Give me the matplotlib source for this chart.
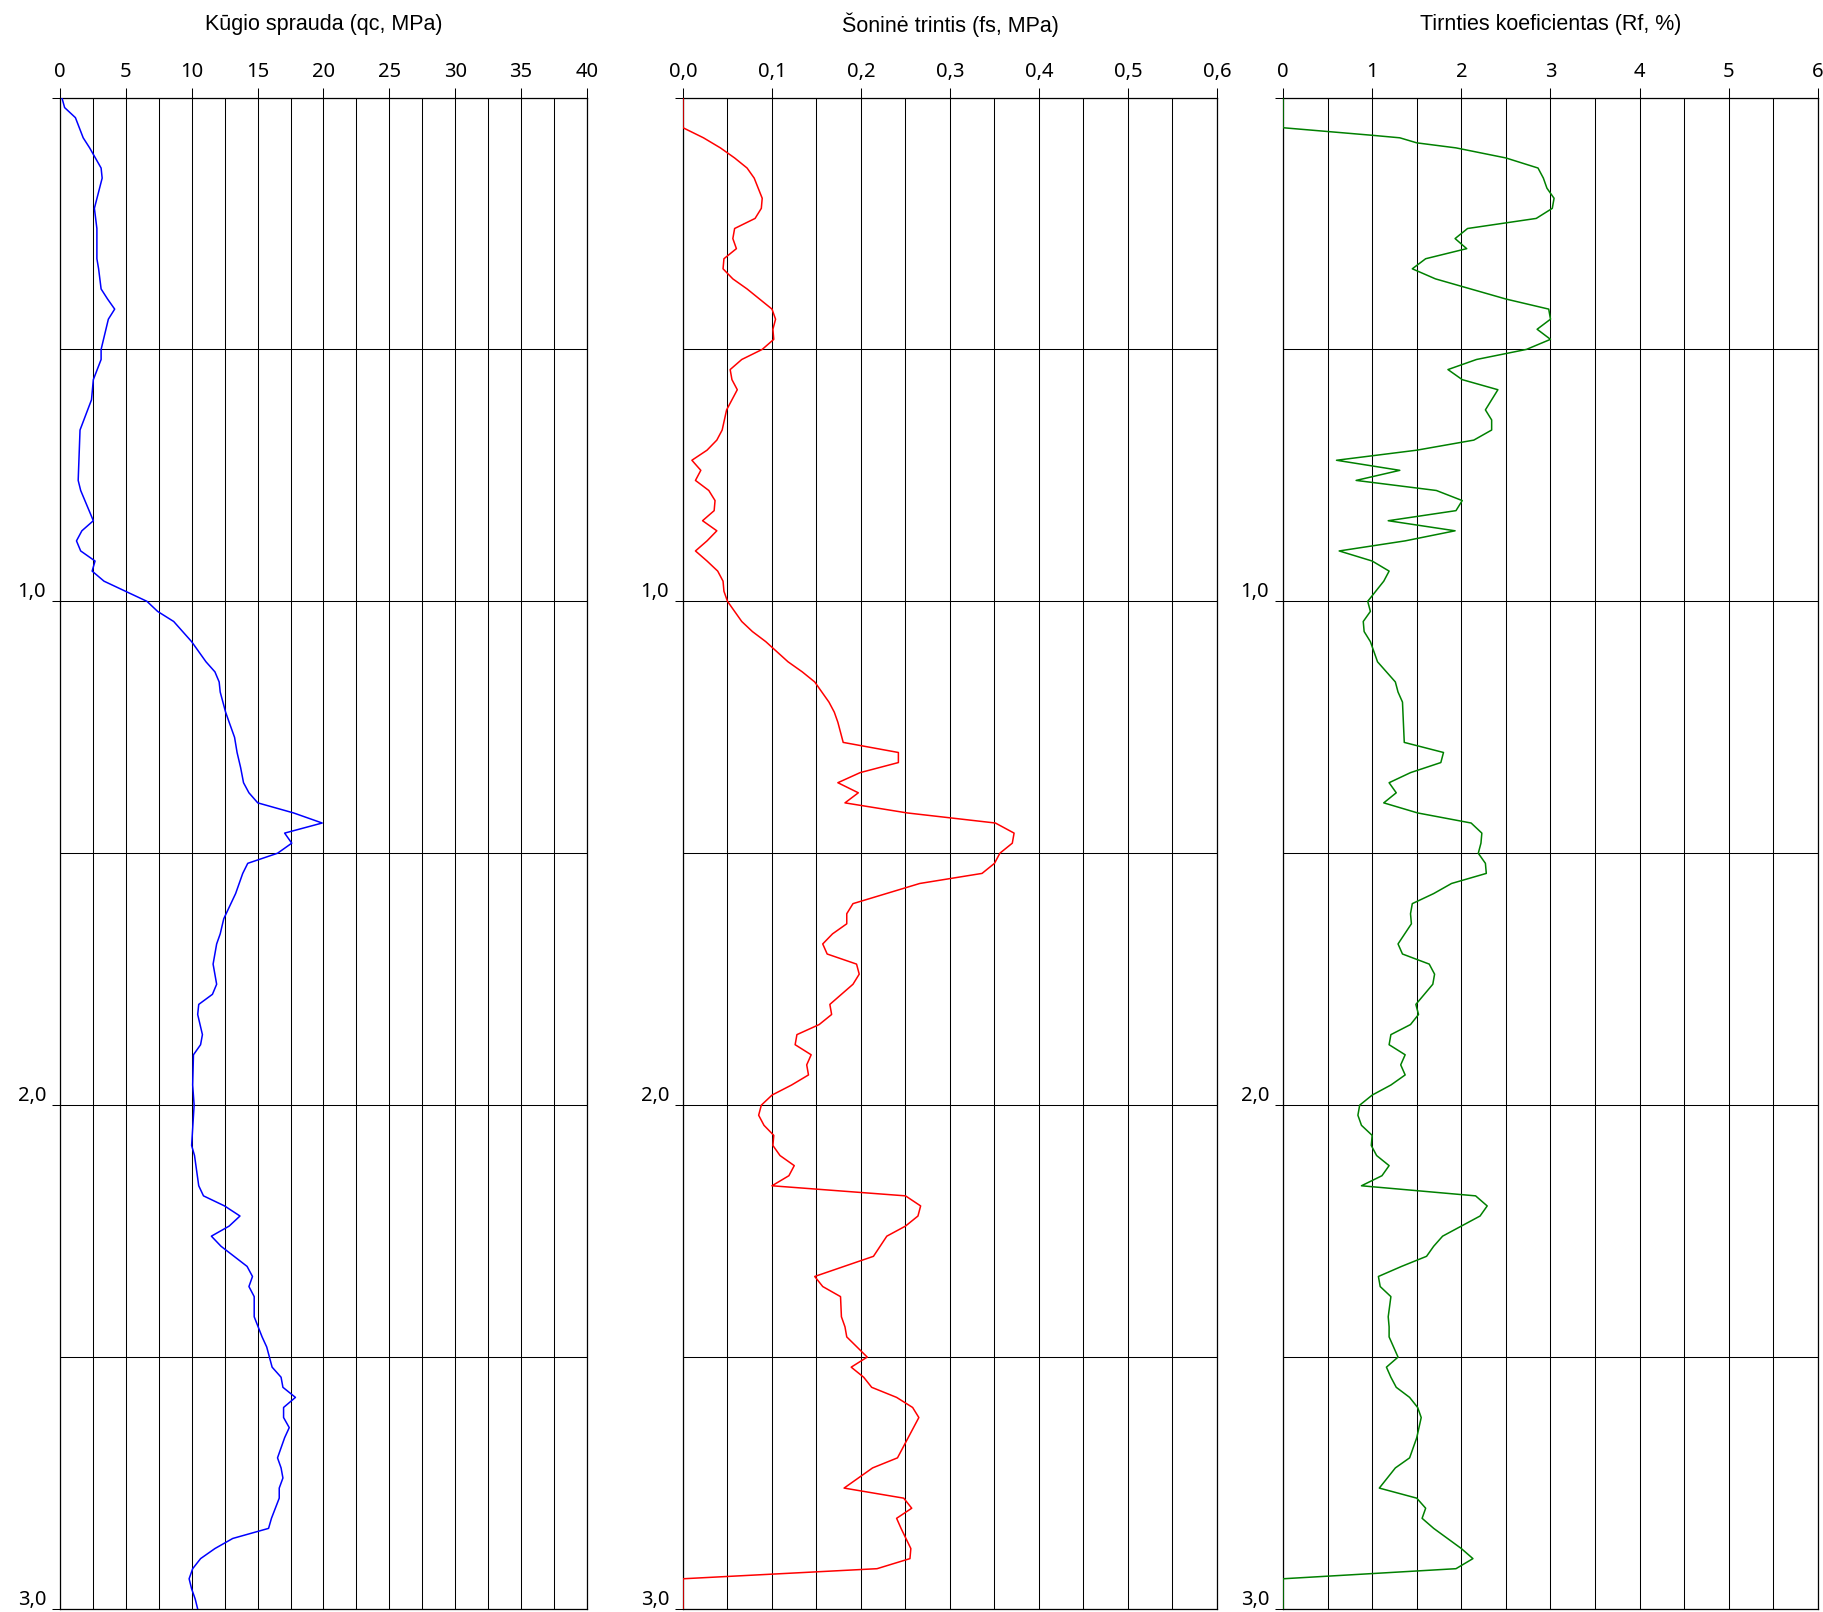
import numpy as np
import matplotlib.pyplot as plt
from matplotlib.transforms import ScaledTranslation

# Kūgio sprauda qc (MPa)
depth_qc = [0.00, 0.02, 0.04, 0.08, 0.10, 0.14, 0.16, 0.22, 0.26, 0.32, 0.34, 0.38, 0.40, 0.42, 0.44,
            0.50, 0.52, 0.56, 0.60, 0.66, 0.76, 0.78, 0.84, 0.86, 0.88, 0.90, 0.92, 0.94, 0.96, 0.98,
            1.00, 1.02, 1.04, 1.08, 1.12, 1.14, 1.16, 1.18, 1.22, 1.24, 1.27, 1.30, 1.33, 1.36, 1.38,
            1.40, 1.42, 1.44, 1.46, 1.48, 1.50, 1.52, 1.54, 1.58, 1.63, 1.66, 1.68, 1.72, 1.76, 1.78,
            1.80, 1.82, 1.86, 1.88, 1.90, 1.96, 2.00, 2.08, 2.10, 2.16, 2.18, 2.20, 2.22, 2.24, 2.26,
            2.28, 2.32, 2.34, 2.36, 2.38, 2.42, 2.46, 2.48, 2.52, 2.54, 2.56, 2.58, 2.60, 2.62, 2.64,
            2.66, 2.70, 2.72, 2.74, 2.76, 2.78, 2.82, 2.84, 2.86, 2.88, 2.90, 2.92, 2.94, 2.96, 2.98, 3.00]
qc = [0.14, 0.35, 1.17, 1.76, 2.25, 3.12, 3.20, 2.61, 2.80, 2.80, 2.93, 3.12, 3.61, 4.15, 3.67,
      3.12, 3.12, 2.53, 2.39, 1.52, 1.38, 1.57, 2.53, 1.66, 1.25, 1.57, 2.66, 2.44, 3.34, 4.97,
      6.60, 7.41, 8.63, 9.99, 11.08, 11.76, 12.08, 12.16, 12.57, 12.84, 13.25, 13.44, 13.71, 13.93, 14.34,
      15.01, 17.73, 19.90, 17.05, 17.59, 16.51, 14.25, 13.87, 13.33, 12.43, 12.16, 11.89, 11.62, 11.89, 11.57,
      10.53, 10.45, 10.81, 10.67, 10.13, 10.07, 10.18, 9.99, 10.21, 10.53, 10.89, 12.49, 13.66, 12.84, 11.49,
      12.22, 14.20, 14.61, 14.34, 14.74, 14.74, 15.34, 15.69, 16.10, 16.78, 16.92, 17.87, 16.97, 16.97, 17.40,
      17.05, 16.51, 16.78, 16.92, 16.64, 16.64, 16.05, 15.83, 13.11, 11.76, 10.67, 10.07, 9.80, 9.99, 10.26, 10.45]

# Šoninė trintis fs (MPa)
depth_fs = [0.00, 0.06, 0.08, 0.10, 0.12, 0.14, 0.16, 0.20, 0.22, 0.24, 0.26, 0.28, 0.30, 0.32, 0.34,
            0.36, 0.38, 0.40, 0.42, 0.44, 0.46, 0.48, 0.50, 0.52, 0.54, 0.56, 0.58, 0.62, 0.66, 0.68,
            0.70, 0.72, 0.74, 0.76, 0.78, 0.80, 0.82, 0.84, 0.86, 0.88, 0.90, 0.92, 0.94, 0.96, 0.98,
            1.00, 1.04, 1.06, 1.08, 1.12, 1.14, 1.16, 1.20, 1.22, 1.24, 1.28, 1.30, 1.32, 1.34, 1.36,
            1.38, 1.40, 1.42, 1.44, 1.46, 1.48, 1.50, 1.52, 1.54, 1.56, 1.60, 1.62, 1.64, 1.66, 1.68,
            1.70, 1.72, 1.74, 1.76, 1.80, 1.82, 1.84, 1.86, 1.88, 1.90, 1.92, 1.94, 1.96, 1.98, 2.00,
            2.02, 2.04, 2.06, 2.08, 2.10, 2.12, 2.14, 2.16, 2.18, 2.20, 2.22, 2.24, 2.26, 2.30, 2.34,
            2.36, 2.38, 2.42, 2.44, 2.46, 2.50, 2.52, 2.54, 2.56, 2.58, 2.60, 2.62, 2.66, 2.70, 2.72,
            2.76, 2.78, 2.80, 2.82, 2.84, 2.88, 2.90, 2.92, 2.94, 3.00]
fs = [0.000, 0.000, 0.023, 0.042, 0.058, 0.072, 0.080, 0.089, 0.088, 0.081, 0.058, 0.056, 0.060, 0.046, 0.045,
      0.056, 0.072, 0.086, 0.100, 0.104, 0.101, 0.102, 0.089, 0.066, 0.053, 0.055, 0.061, 0.049, 0.044, 0.038,
      0.027, 0.010, 0.020, 0.014, 0.029, 0.036, 0.035, 0.022, 0.038, 0.027, 0.014, 0.027, 0.039, 0.045, 0.046,
      0.050, 0.066, 0.078, 0.093, 0.118, 0.134, 0.148, 0.164, 0.170, 0.174, 0.180, 0.242, 0.242, 0.199, 0.174,
      0.197, 0.182, 0.252, 0.351, 0.372, 0.370, 0.356, 0.350, 0.336, 0.266, 0.191, 0.184, 0.184, 0.168, 0.157,
      0.162, 0.195, 0.198, 0.191, 0.165, 0.167, 0.153, 0.128, 0.126, 0.144, 0.139, 0.141, 0.122, 0.100, 0.088,
      0.085, 0.091, 0.102, 0.101, 0.109, 0.125, 0.119, 0.100, 0.250, 0.267, 0.264, 0.250, 0.229, 0.214, 0.148,
      0.157, 0.177, 0.178, 0.182, 0.184, 0.207, 0.189, 0.203, 0.212, 0.240, 0.258, 0.265, 0.253, 0.241, 0.213,
      0.181, 0.248, 0.257, 0.240, 0.245, 0.256, 0.255, 0.218, 0.000, 0.000]

# Tirnties koeficientas Rf (%)
depth_rf = [0.00, 0.06, 0.075, 0.08, 0.09, 0.10, 0.12, 0.14, 0.16, 0.18, 0.20, 0.22, 0.24, 0.26, 0.28,
            0.30, 0.32, 0.34, 0.36, 0.40, 0.42, 0.44, 0.46, 0.48, 0.50, 0.52, 0.54, 0.56, 0.58, 0.62,
            0.64, 0.66, 0.68, 0.70, 0.72, 0.74, 0.76, 0.78, 0.80, 0.82, 0.84, 0.86, 0.88, 0.90, 0.92,
            0.94, 0.96, 1.00, 1.02, 1.04, 1.06, 1.08, 1.12, 1.14, 1.16, 1.18, 1.20, 1.24, 1.28, 1.30,
            1.32, 1.34, 1.36, 1.38, 1.40, 1.42, 1.44, 1.46, 1.48, 1.50, 1.52, 1.54, 1.56, 1.58, 1.60,
            1.62, 1.64, 1.68, 1.70, 1.72, 1.74, 1.76, 1.80, 1.82, 1.84, 1.86, 1.88, 1.90, 1.92, 1.94,
            1.96, 1.98, 2.00, 2.02, 2.04, 2.06, 2.08, 2.10, 2.12, 2.14, 2.16, 2.18, 2.20, 2.22, 2.24,
            2.26, 2.28, 2.30, 2.32, 2.34, 2.36, 2.38, 2.42, 2.44, 2.46, 2.50, 2.52, 2.54, 2.56, 2.58,
            2.60, 2.62, 2.66, 2.70, 2.72, 2.76, 2.78, 2.80, 2.82, 2.84, 2.88, 2.90, 2.92, 2.94, 3.00]
rf = [0.00, 0.00, 1.00, 1.31, 1.50, 1.94, 2.50, 2.86, 2.92, 2.96, 3.04, 3.02, 2.84, 2.07, 1.93,
      2.06, 1.60, 1.45, 1.71, 2.50, 2.98, 3.00, 2.85, 3.00, 2.73, 2.17, 1.85, 2.01, 2.41, 2.27,
      2.34, 2.34, 2.14, 1.50, 0.60, 1.31, 0.82, 1.72, 2.01, 1.94, 1.18, 1.93, 1.37, 0.63, 1.00,
      1.19, 1.13, 0.95, 0.98, 0.90, 0.91, 0.98, 1.06, 1.16, 1.26, 1.29, 1.34, 1.35, 1.36, 1.80,
      1.77, 1.43, 1.19, 1.27, 1.13, 1.51, 2.11, 2.23, 2.22, 2.19, 2.27, 2.28, 1.89, 1.69, 1.45,
      1.43, 1.44, 1.29, 1.34, 1.64, 1.70, 1.68, 1.49, 1.52, 1.43, 1.21, 1.19, 1.37, 1.32, 1.37,
      1.21, 1.00, 0.86, 0.84, 0.88, 1.00, 0.99, 1.05, 1.19, 1.11, 0.88, 2.16, 2.29, 2.21, 2.00,
      1.79, 1.69, 1.61, 1.33, 1.07, 1.09, 1.21, 1.18, 1.19, 1.19, 1.29, 1.16, 1.21, 1.27, 1.42,
      1.51, 1.55, 1.50, 1.42, 1.26, 1.08, 1.50, 1.60, 1.56, 1.69, 2.00, 2.13, 1.94, 0.00, 0.00]

titles = ['Kūgio sprauda (qc, MPa)', 'Šoninė trintis (fs, MPa)', 'Tirnties koeficientas (Rf, %)']
depth_ticks = [0.0, 1.0, 2.0, 3.0]
depth_labels = ['', '1,0', '2,0', '3,0']

W, H = 1824, 1612
fig = plt.figure(figsize=(W / 100, H / 100), dpi=100)

panels = [
    # left px, right px, depths, values, colour, xmax, major, minor, tick format
    (60, 587, depth_qc, qc, '#0000ff', 40, 5, 2.5, lambda v: f'{v:.0f}'),
    (683, 1217, depth_fs, fs, '#ff0000', 0.6, 0.1, 0.05, lambda v: f'{v:.1f}'.replace('.', ',')),
    (1283, 1818, depth_rf, rf, '#008000', 6, 1, 0.5, lambda v: f'{v:.0f}'),
]

top_px, bottom_px = 97.5, 1609
for (l, r, d, v, col, xmax, major, minor, fmt), title in zip(panels, titles):
    ax = fig.add_axes([l / W, (H - bottom_px) / H, (r - l) / W, (bottom_px - top_px) / H])
    ax.plot(v, d, color=col, lw=1.1, zorder=3)
    ax.set_xlim(0, xmax)
    ax.set_ylim(3.0, 0.0)

    ax.xaxis.tick_top()
    majors = np.arange(0, xmax + major / 2, major)
    ax.set_xticks(majors)
    ax.set_xticklabels([fmt(m) for m in majors], family='Noto Sans')
    ax.set_xticks(np.arange(0, xmax + minor / 2, minor), minor=True)
    ax.set_yticks(depth_ticks)
    ax.set_yticklabels(depth_labels, family='Noto Sans')
    ax.set_yticks([0.5, 1.5, 2.5], minor=True)

    ax.grid(True, which='both', color='black', lw=0.75)
    ax.set_axisbelow(True)
    for s in ax.spines.values():
        s.set_linewidth(0.9)
    ax.tick_params(axis='x', which='major', length=7, width=0.75, pad=4, labelsize=14.5)
    ax.tick_params(axis='y', which='major', length=6, width=0.75, pad=4, labelsize=14.5)
    ax.tick_params(which='minor', length=0)

    # depth labels sit just above their grid line
    for lab in ax.get_yticklabels():
        lab.set_transform(lab.get_transform() + ScaledTranslation(0, 0.12, fig.dpi_scale_trans))

    ax.text(0.5, 1.0, title, transform=ax.transAxes + ScaledTranslation(0, 0.73, fig.dpi_scale_trans),
            ha='center', va='center', fontsize=15.5, family='Liberation Sans')

fig.savefig('out.png', dpi=100)
